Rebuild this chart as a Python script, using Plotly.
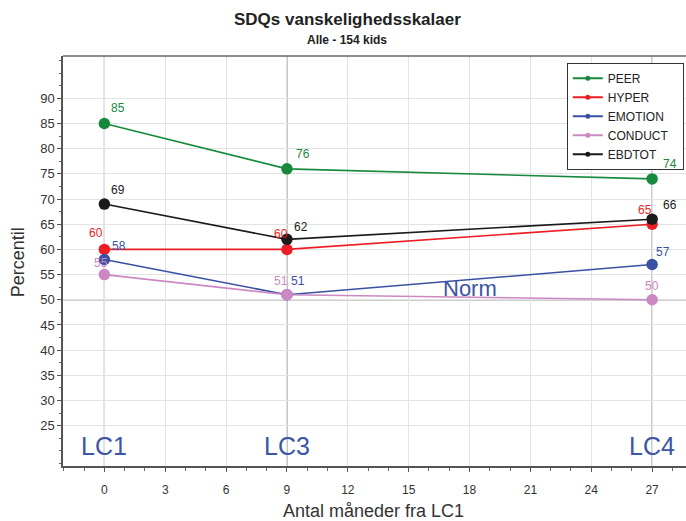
import plotly.graph_objects as go

# ---- data ----
months = [0, 9, 27]
series_names = ["PEER", "HYPER", "EMOTION", "CONDUCT", "EBDTOT"]
peer = [85, 76, 74]
hyper = [60, 60, 65]
emotion = [58, 51, 57]
conduct = [55, 51, 50]
ebdtot = [69, 62, 66]
wave_labels = ["LC1", "LC3", "LC4"]
x_ticks = [0, 3, 6, 9, 12, 15, 18, 21, 24, 27]
y_ticks = [25, 30, 35, 40, 45, 50, 55, 60, 65, 70, 75, 80, 85, 90]
norm_value = 50

# ---- styles ----
colors = {"PEER": "#17893d", "HYPER": "#ee1d24", "EMOTION": "#3950a3",
          "CONDUCT": "#cc88c2", "EBDTOT": "#1a1a1a"}
# label pixel offsets (dx, dy-up) per series per point
label_offsets = {
    "PEER": [(14, 15), (16, 15), (18, 15)],
    "HYPER": [(-8, 16), (-6, 15), (-7, 14)],
    "EMOTION": [(15, 13), (11, 14), (11, 13)],
    "CONDUCT": [(-3, 12), (-6, 14), (0, 14)],
    "EBDTOT": [(14, 14), (14, 12), (18, 14)],
}
FONT = "Liberation Sans, Arial, sans-serif"
LC_BLUE = "#3b55a7"

values = {"PEER": peer, "HYPER": hyper, "EMOTION": emotion,
          "CONDUCT": conduct, "EBDTOT": ebdtot}

fig = go.Figure()
for name in series_names:
    fig.add_trace(go.Scatter(
        x=months, y=values[name], mode="lines+markers", name=name,
        line=dict(color=colors[name], width=1.6),
        marker=dict(color=colors[name], size=11.5),
        showlegend=False, cliponaxis=False))
# legend proxies (small markers)
for name in series_names:
    pad = "&nbsp;" * 3 if name == "CONDUCT" else ""
    fig.add_trace(go.Scatter(
        x=[None], y=[None], mode="lines+markers", name=name + pad,
        line=dict(color=colors[name], width=2),
        marker=dict(color=colors[name], size=5)))

annotations = []
for name in series_names:
    for i, (xv, yv) in enumerate(zip(months, values[name])):
        dx, dy = label_offsets[name][i]
        annotations.append(dict(
            x=xv, y=yv, xref="x", yref="y", text=str(yv), showarrow=False,
            xshift=dx, yshift=dy, xanchor="center", yanchor="middle",
            font=dict(family=FONT, size=12, color=colors[name])))

for xv, lab in zip(months, wave_labels):
    annotations.append(dict(x=xv, y=21, xref="x", yref="y", text=lab,
                            showarrow=False, xanchor="center", yanchor="middle",
                            font=dict(family=FONT, size=25, color=LC_BLUE)))
annotations.append(dict(x=18, y=52.3, xref="x", yref="y", text="Norm",
                        showarrow=False, xanchor="center", yanchor="middle",
                        font=dict(family=FONT, size=22, color=LC_BLUE)))

annotations += [
    dict(x=0.456, y=1.090, xref="paper", yref="paper",
         text="<b>SDQs vanskelighedsskalaer</b>", showarrow=False,
         xanchor="center", yanchor="middle",
         font=dict(family=FONT, size=17, color="#222")),
    dict(x=0.456, y=1.039, xref="paper", yref="paper",
         text="<b>Alle - 154 kids</b>", showarrow=False,
         xanchor="center", yanchor="middle",
         font=dict(family=FONT, size=12, color="#222")),
    dict(x=-0.072, y=0.497, xref="paper", yref="paper", text="Percentil",
         showarrow=False, textangle=-90, xanchor="center", yanchor="middle",
         font=dict(family=FONT, size=18, color="#333")),
    dict(x=0.498, y=-0.109, xref="paper", yref="paper",
         text="Antal måneder fra LC1", showarrow=False,
         xanchor="center", yanchor="middle",
         font=dict(family=FONT, size=18, color="#333")),
]

shapes = []
for xv in months:
    shapes.append(dict(type="line", xref="x", yref="paper", x0=xv, x1=xv,
                       y0=0, y1=1, line=dict(color="#a0a0a0", width=1.3),
                       layer="below"))
shapes.append(dict(type="line", xref="paper", yref="y", x0=0, x1=1,
                   y0=norm_value, y1=norm_value,
                   line=dict(color="#a0a0a0", width=1.3), layer="below"))
shapes.append(dict(type="line", xref="paper", yref="paper", x0=0, x1=1,
                   y0=1, y1=1, line=dict(color="#666", width=1.5)))

fig.update_layout(
    width=686, height=521,
    margin=dict(l=62.5, r=0, t=56, b=55.3),
    paper_bgcolor="white", plot_bgcolor="white",
    font=dict(family=FONT, size=13, color="#333"),
    showlegend=True,
    legend=dict(x=0.8087, y=0.9836, xanchor="left", yanchor="top",
                bgcolor="white", bordercolor="#333", borderwidth=1,
                font=dict(family=FONT, size=12, color="#222"),
                tracegroupgap=0, itemwidth=30),
    annotations=annotations, shapes=shapes,
    xaxis=dict(range=[-2.04, 28.67], tickvals=x_ticks,
               showgrid=True, gridcolor="#e3e3e3", gridwidth=1,
               zeroline=False, showline=True, linecolor="#555", linewidth=1.5,
               ticks="outside", ticklen=4, tickcolor="#555",
               ticklabelstandoff=8,
               tickfont=dict(family=FONT, size=12, color="#333"),
               minor=dict(dtick=1, tick0=0, ticks="outside", ticklen=3,
                          tickcolor="#666", showgrid=False)),
    yaxis=dict(range=[17, 98.4], tickvals=y_ticks,
               showgrid=True, gridcolor="#e3e3e3", gridwidth=1,
               zeroline=False, showline=True, linecolor="#555", linewidth=1.5,
               ticks="outside", ticklen=4, tickcolor="#555",
               tickfont=dict(family=FONT, size=13, color="#333"),
               minor=dict(dtick=2.5, tick0=0, ticks="outside", ticklen=2,
                          tickcolor="#666", showgrid=False)),
)

fig.write_html("out.html", config={"displayModeBar": False},
               post_script="document.body.style.margin='0px';"
                           "document.body.style.overflow='hidden';")
